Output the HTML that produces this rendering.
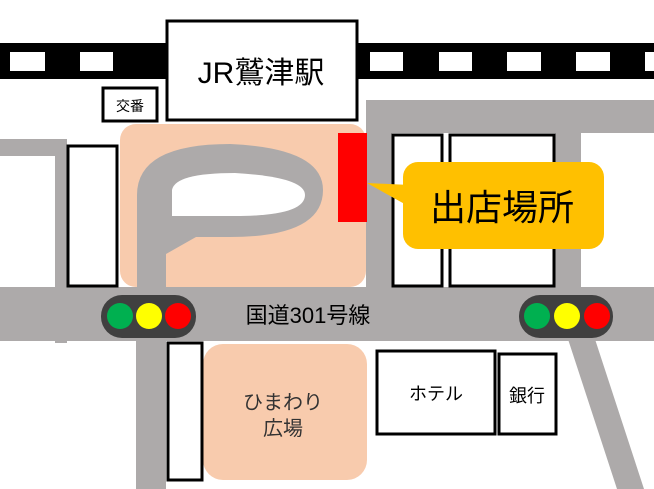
<!DOCTYPE html>
<html><head><meta charset="utf-8"><style>
html,body{margin:0;padding:0;background:#fff;}
svg{display:block;}
text{font-family:"Liberation Sans","Noto Sans CJK JP",sans-serif;}
</style></head><body>
<svg width="654" height="489" viewBox="0 0 654 489" xmlns="http://www.w3.org/2000/svg">
<rect x="0" y="43" width="654" height="36" fill="#000"/>
<g fill="#fff">
<rect x="10" y="52" width="35" height="19"/><rect x="80" y="52" width="33" height="19"/>
<rect x="370" y="52" width="33" height="19"/><rect x="439" y="52" width="33" height="19"/>
<rect x="507" y="52" width="34" height="19"/><rect x="576" y="52" width="34" height="19"/>
<rect x="645" y="52" width="20" height="19"/>
</g>
<g fill="#ADAAAA">
<rect x="366" y="100" width="288" height="33"/>
<rect x="366" y="100" width="26" height="190"/>
<rect x="555" y="100" width="26" height="190"/>
<rect x="0" y="139" width="67" height="17"/>
<rect x="55" y="139" width="12" height="204"/>
<rect x="136" y="330" width="30" height="159"/>
<polygon points="565,330 592,330 644,489 617,489"/>
</g>
<rect x="120" y="124" width="246" height="163" rx="16" fill="#F8CBAD"/>
<rect x="203" y="344" width="164" height="136" rx="20" fill="#F8CBAD"/>
<path d="M137,287 L137,195 Q137,144 230,144 Q323,148 323,190 Q323,237 230,237 L196,237 L166,254 L166,287 Z" fill="#ADAAAA"/>
<path d="M172,216 L172,190 Q175,173 235,173 Q305,177 305,195 Q305,216 235,216 Z" fill="#fff"/>
<rect x="0" y="287" width="654" height="54" fill="#ADAAAA"/>
<g fill="#fff" stroke="#000" stroke-width="3">
<rect x="167" y="21" width="190" height="99"/>
<rect x="103" y="88" width="54" height="33"/>
<rect x="68" y="146" width="49" height="140"/>
<rect x="393" y="135" width="49" height="151"/>
<rect x="450" y="135" width="104" height="151"/>
<rect x="168" y="343" width="34" height="137"/>
<rect x="377" y="351" width="118" height="83"/>
<rect x="499" y="354" width="57" height="80"/>
</g>
<rect x="338" y="133" width="29" height="89" fill="#FF0000"/>
<polygon points="367,183 410,185 410,207" fill="#FFC000"/>
<rect x="403" y="162" width="201" height="87" rx="15" fill="#FFC000"/>
<rect x="101" y="295" width="95" height="43" rx="21" fill="#404040"/>
<circle cx="120" cy="316" r="13" fill="#00B050"/><circle cx="149" cy="316" r="13" fill="#FFFF00"/><circle cx="178" cy="316" r="13" fill="#FF0000"/>
<rect x="519" y="295" width="94" height="43" rx="21" fill="#404040"/>
<circle cx="537" cy="316" r="13" fill="#00B050"/><circle cx="567" cy="316" r="13" fill="#FFFF00"/><circle cx="597" cy="316" r="13" fill="#FF0000"/>
<text x="261" y="83" font-size="30" text-anchor="middle">JR鷲津駅</text>
<text x="130" y="111" font-size="14" text-anchor="middle">交番</text>
<text x="502" y="220" font-size="36" text-anchor="middle">出店場所</text>
<text x="308" y="323" font-size="22" text-anchor="middle">国道301号線</text>
<text x="283" y="409" font-size="20" text-anchor="middle" fill="#333">ひまわり</text>
<text x="283" y="435" font-size="20" text-anchor="middle" fill="#333">広場</text>
<text x="436" y="400" font-size="18" text-anchor="middle">ホテル</text>
<text x="527" y="402" font-size="18" text-anchor="middle">銀行</text>
</svg>
</body></html>
